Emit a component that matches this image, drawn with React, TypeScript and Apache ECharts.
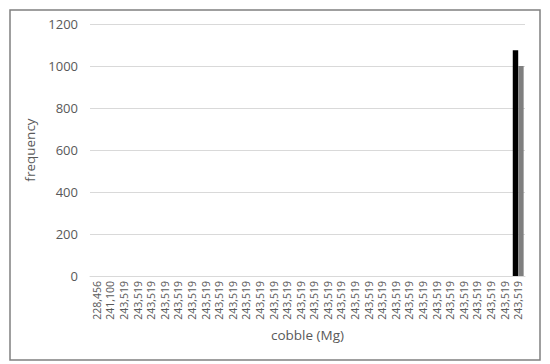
import React, { useEffect, useRef } from "react";
import * as echarts from "echarts";

const categories: string[] = [
  "228,456", "241,100",
  "243,519", "243,519", "243,519", "243,519", "243,519", "243,519",
  "243,519", "243,519", "243,519", "243,519", "243,519", "243,519",
  "243,519", "243,519", "243,519", "243,519", "243,519", "243,519",
  "243,519", "243,519", "243,519", "243,519", "243,519", "243,519",
  "243,519", "243,519", "243,519", "243,519", "243,519", "243,519",
];
const seriesA: number[] = [
  0, 0, 0, 0, 0, 0, 0, 0, 0, 0, 0, 0, 0, 0, 0, 0,
  0, 0, 0, 0, 0, 0, 0, 0, 0, 0, 0, 0, 0, 0, 0, 1075,
];
const seriesB: number[] = [
  0, 0, 0, 0, 0, 0, 0, 0, 0, 0, 0, 0, 0, 0, 0, 0,
  0, 0, 0, 0, 0, 0, 0, 0, 0, 0, 0, 0, 0, 0, 0, 1000,
];
const yTicks = { min: 0, max: 1200, interval: 200 };

export default function App() {
  const ref = useRef<HTMLDivElement>(null);
  useEffect(() => {
    if (!ref.current) return;
    const chart = echarts.init(ref.current, undefined, { renderer: "svg" });
    const font = "'Open Sans', 'Noto Sans', sans-serif";
    chart.setOption({
      animation: false,
      textStyle: { fontFamily: font },
      graphic: [
        {
          type: "rect",
          shape: { x: 10, y: 10, width: 530, height: 350 },
          style: { fill: "none", stroke: "#808080", lineWidth: 1.5 },
          z: -1,
        },
      ],
      grid: { left: 90, right: 25, top: 24, bottom: 88 },
      xAxis: {
        type: "category",
        data: categories,
        name: "cobble (Mg)",
        nameLocation: "middle",
        nameGap: 47,
        nameTextStyle: { fontSize: 13.5, color: "#595959", fontFamily: font },
        axisLine: { lineStyle: { color: "#d9d9d9" } },
        axisTick: { show: false },
        axisLabel: {
          rotate: 90,
          interval: 0,
          fontSize: 10.5,
          color: "#595959",
          margin: 5,
          fontFamily: font,
        },
      },
      yAxis: {
        type: "value",
        min: yTicks.min,
        max: yTicks.max,
        interval: yTicks.interval,
        name: "frequency",
        nameLocation: "middle",
        nameGap: 49,
        nameTextStyle: { fontSize: 13.5, color: "#595959", fontFamily: font },
        axisLine: { show: false },
        axisTick: { show: false },
        axisLabel: {
          fontSize: 13,
          color: "#595959",
          margin: 12,
          fontFamily: font,
          formatter: (v: number) => String(v),
        },
        splitLine: { lineStyle: { color: "#d9d9d9" } },
      },
      series: [
        {
          type: "bar",
          data: seriesA,
          itemStyle: { color: "#000000" },
          barGap: "0%",
          barCategoryGap: "20%",
        },
        {
          type: "bar",
          data: seriesB,
          itemStyle: { color: "#7f7f7f" },
          barGap: "0%",
          barCategoryGap: "20%",
        },
      ],
    });
    return () => chart.dispose();
  }, []);
  return <div ref={ref} style={{ width: 550, height: 364, position: "absolute", left: 0, top: 0 }} />;
}
